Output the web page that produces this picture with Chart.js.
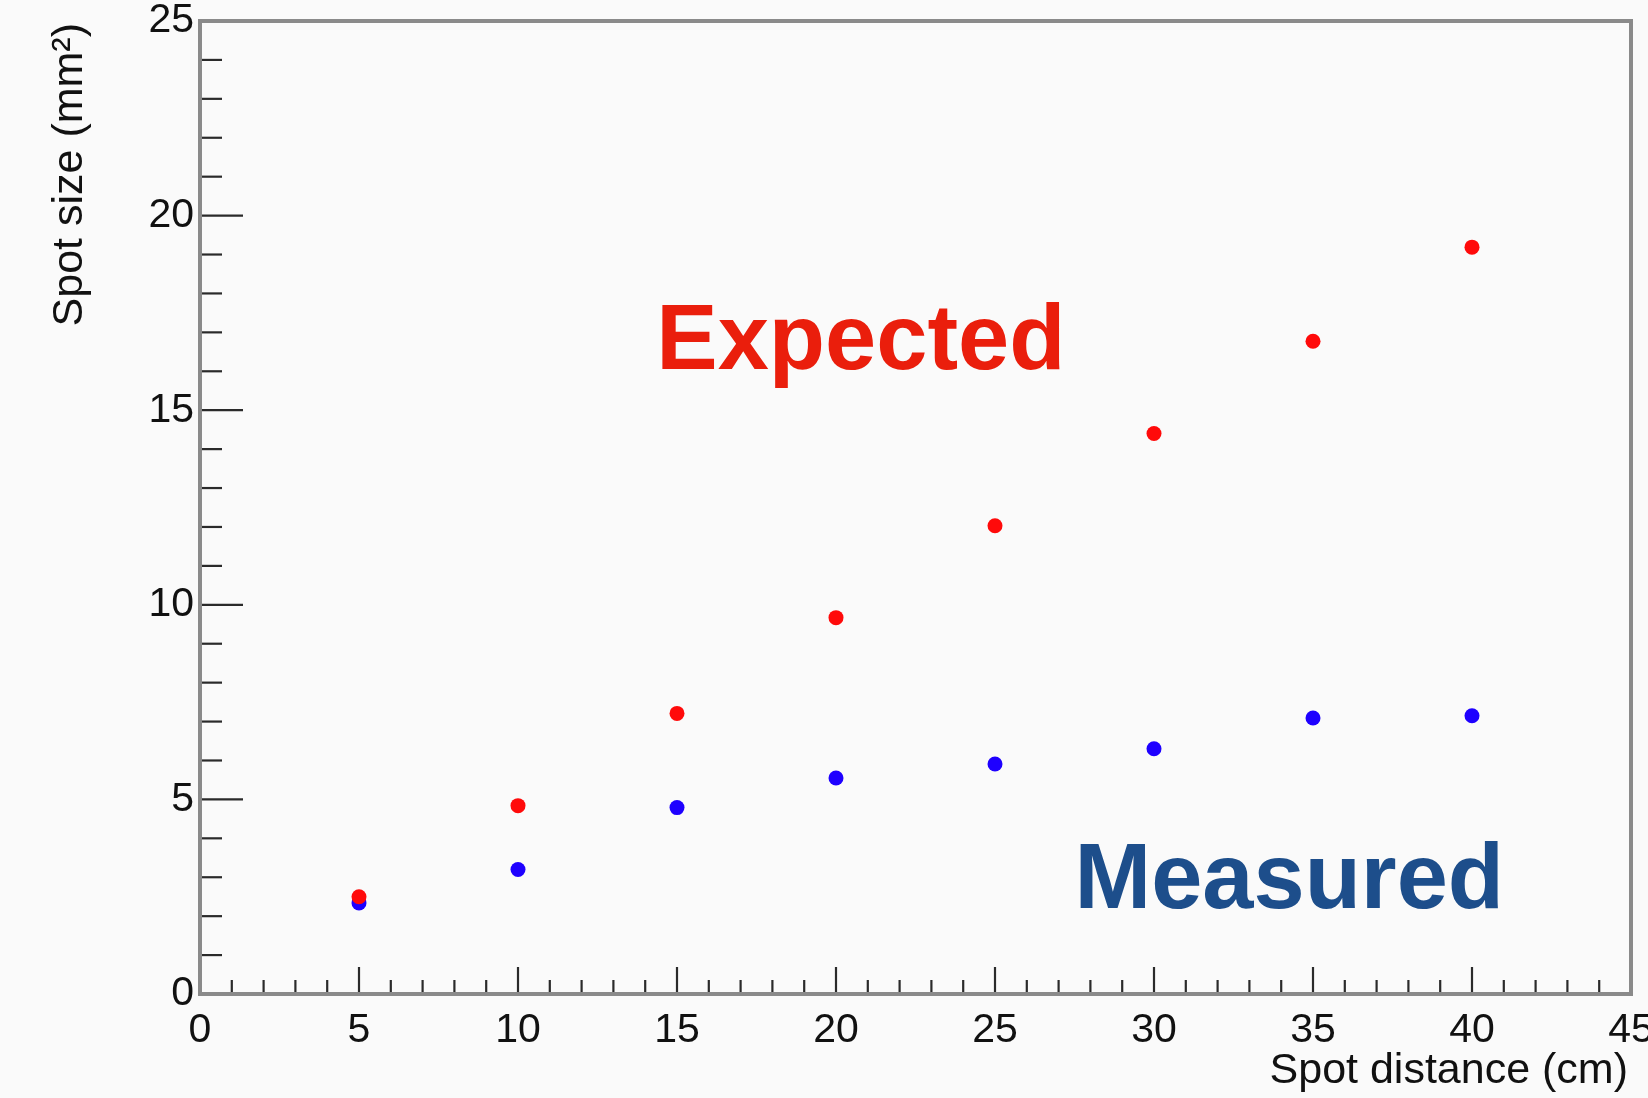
<!DOCTYPE html>
<html>
<head>
<meta charset="utf-8">
<script src="https://cdn.jsdelivr.net/npm/chart.js@4.4.0/dist/chart.umd.min.js"></script>
<style>
    html, body { margin: 0; padding: 0; background: #fafafa; }
    #wrap { width: 1648px; height: 1098px; }
</style>
</head>
<body>
<div id="wrap"><canvas id="spotChart" width="1648" height="1098"></canvas></div>
<script>
// Dữ liệu
var distances = [5, 10, 15, 20, 25, 30, 35, 40];
var expectedSize = [2.50, 4.84, 7.21, 9.67, 12.03, 14.40, 16.77, 19.19];
var measuredSize = [2.34, 3.20, 4.79, 5.55, 5.91, 6.30, 7.09, 7.15];
var xTicks = [0, 5, 10, 15, 20, 25, 30, 35, 40, 45];
var yTicks = [0, 5, 10, 15, 20, 25];

var FONT = "'Liberation Sans', Arial, Helvetica, sans-serif";

function toPoints(xs, ys) {
    return xs.map(function (x, i) { return { x: x, y: ys[i] }; });
}

// Khung, vạch chia và chữ chú thích kiểu ROOT
var rootFrame = {
    id: 'rootFrame',
    beforeDraw: function (chart) {
        var ctx = chart.ctx;
        ctx.save();
        ctx.fillStyle = '#fafafa';
        ctx.fillRect(0, 0, chart.width, chart.height);
        ctx.restore();
    },
    beforeDatasetsDraw: function (chart) {
        var ctx = chart.ctx, a = chart.chartArea;
        var xs = chart.scales.x, ys = chart.scales.y;
        ctx.save();

        // vạch chia trục x
        ctx.strokeStyle = '#2a2a2a';
        ctx.lineWidth = 2.2;
        for (var v = xs.min; v <= xs.max; v++) {
            var px = xs.getPixelForValue(v);
            var len = (v % 5 === 0) ? 27 : 14;
            ctx.beginPath();
            ctx.moveTo(px, a.bottom);
            ctx.lineTo(px, a.bottom - len);
            ctx.stroke();
        }
        // vạch chia trục y
        for (var w = ys.min; w <= ys.max; w++) {
            var py = ys.getPixelForValue(w);
            var ln = (w % 5 === 0) ? 43 : 22;
            ctx.beginPath();
            ctx.moveTo(a.left, py);
            ctx.lineTo(a.left + ln, py);
            ctx.stroke();
        }

        // khung
        ctx.strokeStyle = '#8a8a8a';
        ctx.lineWidth = 4;
        ctx.strokeRect(a.left, a.top, a.right - a.left, a.bottom - a.top);

        // chữ chú thích
        ctx.font = 'bold 92px ' + FONT;
        ctx.textAlign = 'left';
        ctx.textBaseline = 'alphabetic';
        ctx.fillStyle = '#ea1e0c';
        ctx.fillText('Expected', xs.getPixelForValue(14.35), ys.getPixelForValue(16.06));
        ctx.fillStyle = '#1d4e8b';
        ctx.fillText('Measured', xs.getPixelForValue(27.5), ys.getPixelForValue(2.21));

        // tiêu đề trục
        ctx.fillStyle = '#111';
        ctx.font = '43px ' + FONT;
        ctx.textAlign = 'right';
        ctx.fillText('Spot distance (cm)', a.right - 3, 1083);

        ctx.translate(82, a.top + 2);
        ctx.rotate(-Math.PI / 2);
        ctx.textAlign = 'right';
        ctx.fillText('Spot size (mm\u00b2)', 0, 0);

        ctx.restore();
    }
};

var chart = new Chart(document.getElementById('spotChart'), {
    type: 'scatter',
    data: {
        datasets: [
            {
                label: 'Expected',
                data: toPoints(distances, expectedSize),
                backgroundColor: '#ff0a0a',
                borderWidth: 0,
                pointRadius: 7.5,
                pointHoverRadius: 7.5,
                order: 0
            },
            {
                label: 'Measured',
                data: toPoints(distances, measuredSize),
                backgroundColor: '#1e00ff',
                borderWidth: 0,
                pointRadius: 7.5,
                pointHoverRadius: 7.5,
                order: 1
            }
        ]
    },
    options: {
        responsive: false,
        animation: false,
        events: [],
        layout: { padding: { top: 21, right: 17, left: 0, bottom: 0 } },
        plugins: {
            legend: { display: false },
            tooltip: { enabled: false }
        },
        scales: {
            x: {
                type: 'linear',
                min: 0,
                max: 45,
                afterBuildTicks: function (s) { s.ticks = xTicks.map(function (v) { return { value: v }; }); },
                afterFit: function (s) { s.height = 104; s.paddingLeft = 0; s.paddingRight = 0; },
                grid: { display: false, drawTicks: false },
                border: { display: false },
                ticks: {
                    padding: 12,
                    maxRotation: 0,
                    autoSkip: false,
                    color: '#111',
                    font: { family: FONT, size: 41 }
                }
            },
            y: {
                type: 'linear',
                min: 0,
                max: 25,
                afterBuildTicks: function (s) { s.ticks = yTicks.map(function (v) { return { value: v }; }); },
                afterFit: function (s) { s.width = 200; s.paddingTop = 0; s.paddingBottom = 0; },
                grid: { display: false, drawTicks: false },
                border: { display: false },
                ticks: {
                    padding: 6,
                    autoSkip: false,
                    color: '#111',
                    font: { family: FONT, size: 41 }
                }
            }
        }
    },
    plugins: [rootFrame]
});
</script>
</body>
</html>
